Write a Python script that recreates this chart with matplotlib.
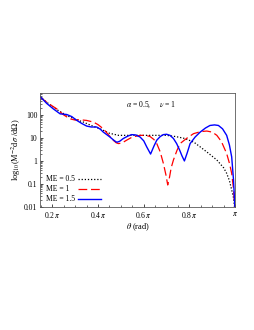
import numpy as np
import matplotlib
matplotlib.use("Agg")
import matplotlib.pyplot as plt
from matplotlib.lines import Line2D
from matplotlib.ticker import FixedLocator, NullFormatter

plt.rcParams['font.family'] = ['Liberation Serif', 'DejaVu Serif']
plt.rcParams['mathtext.fontset'] = 'stix'

# theta in units of pi, values of dsigma/dOmega
t_05 = [0.146, 0.18, 0.22, 0.263, 0.30, 0.336, 0.37, 0.409, 0.45, 0.49, 0.55, 0.62, 0.70, 0.74,
        0.78, 0.82, 0.847, 0.88, 0.92, 0.95, 0.963, 0.975, 0.985, 0.993, 1.0]
y_05 = [620, 330, 170, 95, 65, 49, 35, 25, 16, 13, 13, 13, 13, 11.5,
        9.5, 6.5, 4.1, 2.3, 1.1, 0.5, 0.29, 0.14, 0.055, 0.025, 0.006]

t_1 = [0.146, 0.18, 0.219, 0.25, 0.277, 0.30, 0.321, 0.35, 0.38, 0.40, 0.423, 0.445, 0.467, 0.479,
       0.489, 0.50, 0.51, 0.525, 0.55, 0.584, 0.61, 0.628, 0.645, 0.657, 0.672, 0.686, 0.697,
       0.705, 0.713, 0.72, 0.73, 0.745, 0.759, 0.79, 0.818, 0.85, 0.876, 0.90, 0.92, 0.94,
       0.963, 0.975, 0.985, 0.993, 1.0]
y_1 = [600, 330, 185, 100, 68, 60, 62, 58, 49, 38, 25, 14, 7.9, 6.2,
       5.7, 5.9, 6.5, 8, 11, 13, 13, 11.5, 8.5, 5.7, 2.5, 0.78, 0.25,
       0.09, 0.2, 0.5, 1.1, 2.8, 5.7, 10, 15.4, 19, 20, 18, 13, 7,
       2.1, 0.8, 0.29, 0.06, 0.006]

t_15 = [0.146, 0.175, 0.204, 0.234, 0.263, 0.285, 0.307, 0.33, 0.35, 0.37, 0.394, 0.41, 0.423,
        0.452, 0.47, 0.482, 0.495, 0.51, 0.53, 0.547, 0.565, 0.584, 0.60, 0.613, 0.63, 0.645,
        0.657, 0.672, 0.686, 0.70, 0.715, 0.73, 0.744, 0.757, 0.767, 0.778, 0.79, 0.803, 0.825,
        0.847, 0.87, 0.89, 0.91, 0.927, 0.945, 0.963, 0.975, 0.985, 0.993, 1.0]
y_15 = [640, 320, 185, 112, 105, 85, 58, 42, 33, 30, 30, 24, 18,
        11, 7.8, 6.5, 7.2, 9.4, 12, 14, 13.5, 11, 7.5, 4.1, 2.0, 4.5,
        8, 11.5, 14, 14.5, 13, 9.5, 5.7, 3.0, 1.7, 1.0, 2.2, 5.7, 11,
        18, 27, 35, 37, 35, 25, 13, 5, 1.5, 0.15, 0.006]

labels = ['ME = 0.5', 'ME = 1', 'ME = 1.5']
xticks = [0.2, 0.4, 0.6, 0.8, 1.0]
xticklabels = [r'0.2$\,\pi$', r'0.4$\,\pi$', r'0.6$\,\pi$', r'0.8$\,\pi$', r'$\pi$']
yticks = [0.01, 0.1, 1, 10, 100]
yticklabels = ['0.01', '0.1', '1', '10', '100']

fig = plt.figure(figsize=(2.55, 3.3), dpi=100)
ax = fig.add_axes([0.157, 0.373, 0.765, 0.345])

styles = [dict(color='black', ls=(0, (1, 1.5)), lw=0.9),
          dict(color='#ff0000', ls=(0, (7, 3)), lw=0.9),
          dict(color='#0000ff', ls='-', lw=1.0)]
series = [(t_05, y_05), (t_1, y_1), (t_15, y_15)]
for (t, y), st, lab in zip(series, styles, labels):
    ax.plot(np.array(t) * np.pi, y, label=lab, **st)

ax.set_yscale('log')
ax.set_xlim(0.146 * np.pi, 1.0 * np.pi)
ax.set_ylim(0.01, 900)

ax.set_xticks(np.array(xticks) * np.pi)
ax.set_xticklabels(xticklabels)
ax.xaxis.set_minor_locator(FixedLocator(np.arange(0.15, 1.0, 0.05) * np.pi))
ax.set_yticks(yticks)
ax.set_yticklabels(yticklabels)
ax.yaxis.set_minor_formatter(NullFormatter())

ax.tick_params(which='both', direction='in', labelsize=5.5, pad=2)
ax.tick_params(which='major', length=2.5, width=0.5)
ax.tick_params(which='minor', length=1.3, width=0.4)
for s in ax.spines.values():
    s.set_linewidth(0.6)
    s.set_color('0.35')

ax.set_xlabel(r'$\theta$ (rad)', fontsize=6, labelpad=1)
ax.set_ylabel(r'log$_{10}$(M$^{-2}$d$\sigma$ /d$\Omega$)', fontsize=6, labelpad=1)

ax.text(0.44, 0.88, r'$\alpha$ = 0.5,     $\nu$ = 1', transform=ax.transAxes, fontsize=5.5)

# legend drawn as a small table: label left, line sample right
for i, (st, lab) in enumerate(zip(styles, labels)):
    yy = 0.248 - i * 0.088
    ax.text(0.03, yy, lab, transform=ax.transAxes, fontsize=5.5, va='center')
    ax.add_line(Line2D([0.195, 0.31], [yy, yy], transform=ax.transAxes, **st))

fig.savefig('out.png', dpi=100)
